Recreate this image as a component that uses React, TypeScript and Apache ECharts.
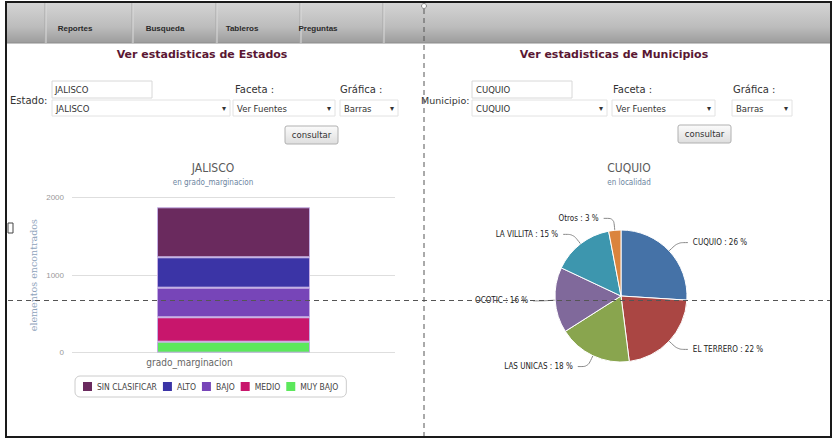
import React, { useEffect, useRef } from 'react';
import * as echarts from 'echarts';

const menuItems = ['Reportes', 'Busqueda', 'Tableros', 'Preguntas'];
const barCategories = ['grado_marginacion'];
const legendOrder = ['SIN CLASIFICAR', 'ALTO', 'BAJO', 'MEDIO', 'MUY BAJO'];
const stackNames = ['MUY BAJO', 'MEDIO', 'BAJO', 'ALTO', 'SIN CLASIFICAR'];
const stackValues = [142, 315, 382, 392, 645];
const stackColors = ['#5ce85c', '#c8166c', '#7745b8', '#3b34a6', '#6a2a5e'];
const yTicks = [0, 1000, 2000];
const pieNames = ['CUQUIO', 'EL TERRERO', 'LAS UNICAS', 'OCOTIC', 'LA VILLITA', 'Otros'];
const pieValues = [26, 22, 18, 16, 15, 3];
const pieColors = ['#4572A7', '#AA4643', '#89A54E', '#80699B', '#3D96AE', '#DB843D'];

const NARROW = "'Liberation Sans Narrow', 'DejaVu Sans Condensed', 'Liberation Sans', sans-serif";
const UI = "'DejaVu Sans', sans-serif";

function txt(text: string, x: number, y: number, font: string, fill: string, align = 'left', z = 5) {
  return { type: 'text', x, y, z, style: { text, font, fill, textAlign: align, textVerticalAlign: 'middle' } };
}
function box(x: number, y: number, w: number, h: number, stroke = '#d2d2d2', fill: any = '#fff') {
  return { type: 'rect', z: 3, shape: { x, y, width: w, height: h }, style: { fill, stroke, lineWidth: 1 } };
}
function button(x: number, y: number, w: number, h: number) {
  return [
    {
      type: 'rect', z: 3, shape: { x, y, width: w, height: h, r: 2 },
      style: {
        fill: new echarts.graphic.LinearGradient(0, 0, 0, 1, [
          { offset: 0, color: '#fbfbfb' }, { offset: 1, color: '#dedede' },
        ]),
        stroke: '#b0b0b0', lineWidth: 1,
      },
    },
    txt('consultar', x + w / 2, y + h / 2, `8.5px ${UI}`, '#333', 'center'),
  ];
}
function select(x: number, y: number, w: number, label: string) {
  return [
    box(x, y, w, 16, '#e2e2e2'),
    txt(label, x + 4, y + 8.5, `8.5px ${UI}`, '#333'),
    txt('▾', x + w - 6, y + 8.5, `8px ${UI}`, '#333', 'center'),
  ];
}

export default function App() {
  const ref = useRef<HTMLDivElement>(null);
  useEffect(() => {
    if (!ref.current) return;
    const chart = echarts.init(ref.current, undefined, { renderer: 'svg' });
    const sepXs = [45, 132, 216, 300, 383];
    const menuXs = [75, 165, 242, 318];
    const graphics: any[] = [
      // header bar
      {
        type: 'rect', z: 1, shape: { x: 7, y: 3, width: 824, height: 40 },
        style: {
          fill: new echarts.graphic.LinearGradient(0, 0, 0, 1, [
            { offset: 0, color: '#d4d4d4' }, { offset: 0.6, color: '#bcbcbc' }, { offset: 1, color: '#9c9c9c' },
          ]),
        },
      },
      { type: 'line', z: 2, shape: { x1: 7, y1: 43, x2: 831, y2: 43 }, style: { stroke: '#8c8c8c', lineWidth: 1 } },
      ...sepXs.map((x) => ({ type: 'line', z: 2, shape: { x1: x, y1: 3, x2: x, y2: 43 }, style: { stroke: '#a6a6a6', lineWidth: 1 } })),
      ...sepXs.map((x) => ({ type: 'line', z: 2, shape: { x1: x + 1, y1: 3, x2: x + 1, y2: 43 }, style: { stroke: '#dcdcdc', lineWidth: 1 } })),
      ...menuItems.map((m, i) => txt(m, menuXs[i], 28, `bold 8px 'Liberation Sans', sans-serif`, '#2a2a2a', 'center')),
      // page titles
      txt('Ver estadisticas de Estados', 202, 54, `bold 11px ${UI}`, '#5a1733', 'center'),
      txt('Ver estadisticas de Municipios', 614, 54, `bold 11px ${UI}`, '#5a1733', 'center'),
      // left form
      txt('Estado:', 10, 100, `10px ${UI}`, '#333'),
      box(52, 81, 100, 17, '#d8d8d8'),
      txt('JALISCO', 55, 90, `8.5px ${UI}`, '#333'),
      ...select(52, 100, 178, 'JALISCO'),
      txt('Faceta :', 235, 89, `10px ${UI}`, '#333'),
      ...select(233, 100, 102, 'Ver Fuentes'),
      txt('Gráfica :', 340, 89, `10px ${UI}`, '#333'),
      ...select(340, 100, 58, 'Barras'),
      ...button(285, 126, 53, 18),
      // right form
      txt('Municipio:', 421, 100, `9.5px ${UI}`, '#333'),
      box(472, 81, 100, 17, '#d8d8d8'),
      txt('CUQUIO', 476, 90, `8.5px ${UI}`, '#333'),
      ...select(472, 100, 135, 'CUQUIO'),
      txt('Faceta :', 613, 89, `10px ${UI}`, '#333'),
      ...select(612, 100, 103, 'Ver Fuentes'),
      txt('Gráfica :', 733, 89, `10px ${UI}`, '#333'),
      ...select(732, 100, 60, 'Barras'),
      ...button(678, 125, 53, 18),
      // small marks
      { type: 'rect', z: 3, shape: { x: 8, y: 223, width: 5, height: 10 }, style: { fill: '#fff', stroke: '#444', lineWidth: 1 } },
      { type: 'circle', z: 100, shape: { cx: 424, cy: 6, r: 2.5 }, style: { fill: '#fff', stroke: '#888', lineWidth: 1 } },
      // guide dashed lines
      { type: 'line', z: 100, shape: { x1: 424, y1: 9, x2: 424, y2: 437 }, style: { stroke: '#555', lineWidth: 1, lineDash: [5, 4] } },
      { type: 'line', z: 100, shape: { x1: 8, y1: 300.5, x2: 831, y2: 300.5 }, style: { stroke: '#555', lineWidth: 1, lineDash: [5, 4] } },
      // outer frame
      { type: 'rect', z: 101, shape: { x: 6, y: 2, width: 825, height: 435 }, style: { fill: 'none', stroke: '#1a1a1a', lineWidth: 2 } },
    ];

    chart.setOption({
      animation: false,
      backgroundColor: '#fff',
      title: [
        {
          text: 'JALISCO', subtext: 'en grado_marginacion', left: 208, top: 157, textAlign: 'center', itemGap: 4,
          textStyle: { fontSize: 12, fontWeight: 'normal', color: '#5a5a5a', fontFamily: NARROW },
          subtextStyle: { fontSize: 8, color: '#6D869F', fontFamily: NARROW },
        },
        {
          text: 'CUQUIO', subtext: 'en localidad', left: 624, top: 157, textAlign: 'center', itemGap: 4,
          textStyle: { fontSize: 12, fontWeight: 'normal', color: '#5a5a5a', fontFamily: NARROW },
          subtextStyle: { fontSize: 8, color: '#6D869F', fontFamily: NARROW },
        },
      ],
      legend: {
        data: legendOrder,
        left: 75, top: 376,
        padding: [6, 8],
        itemGap: 6, itemWidth: 9, itemHeight: 9, icon: 'rect',
        itemStyle: { borderWidth: 0 },
        borderColor: '#cccccc', borderWidth: 1, borderRadius: 5,
        textStyle: { fontSize: 8.5, color: '#444', fontFamily: NARROW },
      },
      grid: { left: 72, right: 437, top: 197.7, bottom: 88.3, containLabel: false },
      xAxis: {
        type: 'category', data: barCategories,
        axisLine: { show: false }, axisTick: { show: false },
        axisLabel: { color: '#666', fontSize: 10, margin: 5, padding: [0, 88, 0, 0], fontFamily: NARROW },
      },
      yAxis: {
        type: 'value', min: yTicks[0], max: yTicks[yTicks.length - 1], interval: 1000,
        axisLine: { show: false }, axisTick: { show: false },
        splitLine: { lineStyle: { color: '#dedede', width: 1 } },
        axisLabel: { color: '#999', fontSize: 8, margin: 8, formatter: (v: number) => String(v), fontFamily: "'Liberation Sans', sans-serif" },
        name: 'elementos encontrados', nameLocation: 'middle', nameGap: 34,
        nameTextStyle: { fontSize: 9.5, color: '#8ea3bb', fontFamily: "'DejaVu Serif', serif" },
      },
      series: [
        ...stackNames.map((n, i) => ({
          name: n, type: 'bar', stack: 'total', barWidth: 153,
          data: [stackValues[i]],
          itemStyle: { color: stackColors[i], borderColor: '#c4aee4', borderWidth: 1 },
        })),
        {
          type: 'pie', center: [621, 296], radius: 66, startAngle: 90,
          data: pieNames.map((n, i) => ({ name: n, value: pieValues[i], itemStyle: { color: pieColors[i] } })),
          itemStyle: { borderColor: '#fff', borderWidth: 1 },
          label: { formatter: '{b} : {c} %', fontSize: 8, color: '#222', fontFamily: NARROW },
          labelLine: { length: 12, length2: 10, smooth: 0.3, lineStyle: { color: '#888', width: 1 } },
        },
      ],
      graphic: graphics,
    });
    return () => chart.dispose();
  }, []);
  return <div ref={ref} style={{ position: 'fixed', left: 0, top: 0, width: 832, height: 441 }} />;
}
